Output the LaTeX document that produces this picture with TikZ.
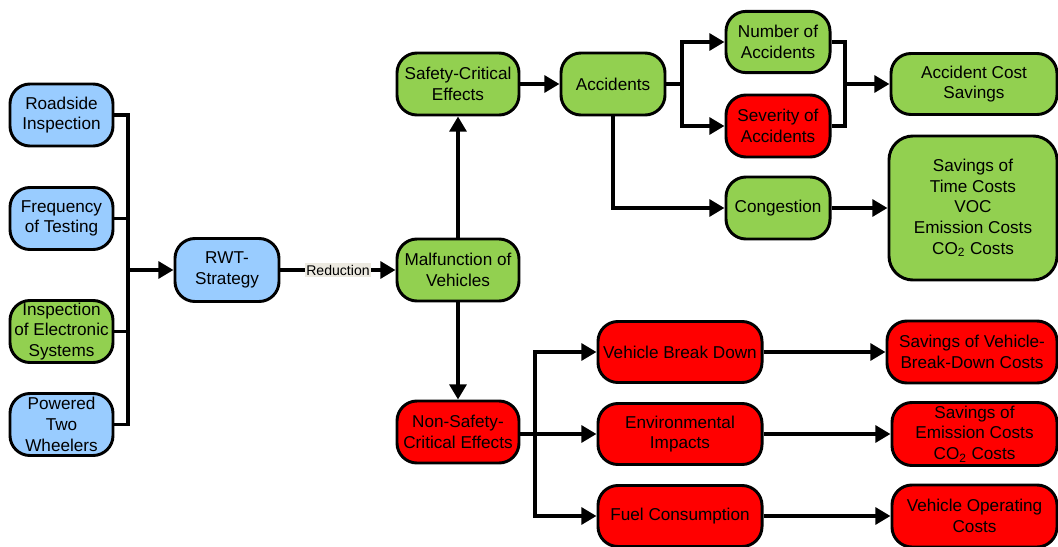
\documentclass[tikz,border=0pt]{standalone}
\usepackage{fontspec}
\setmainfont{Liberation Sans}
\usetikzlibrary{arrows.meta}
\definecolor{boxblue}{HTML}{99CCFF}
\definecolor{boxgreen}{HTML}{92D050}
\definecolor{boxred}{HTML}{FF0000}
\definecolor{labelgrey}{HTML}{ECE9E0}
\tikzset{
	box/.style={draw, line width=2.1pt, rounded corners=0.5cm, align=center,
		inner sep=1pt, font=\fontsize{12.2}{14.7}\selectfont},
	bluebox/.style={box, fill=boxblue},
	greenbox/.style={box, fill=boxgreen},
	redbox/.style={box, fill=boxred},
	redlabel/.style={fill=labelgrey, inner sep=1pt, font=\fontsize{10}{12}\selectfont},
}

\begin{document}
\begin{tikzpicture}[>={Triangle[length=0.38cm, width=0.42cm]}, line width=2.8pt,
			x=0.025cm, y=-0.025cm]
		\useasboundingbox (0, 0) rectangle (1058, 546);
		\clip (0, 0) rectangle (1058, 546);

		% measures
		\node[bluebox, minimum width=2.575cm, minimum height=1.55cm] (road) at (61.5, 115) {Roadside\\Inspection};
		\node[bluebox, minimum width=2.575cm, minimum height=1.55cm] (freq) at (61.5, 218.5) {Frequency\\of Testing};
		\node[greenbox, minimum width=2.575cm, minimum height=1.55cm] (elec) at (61.5, 331.5) {Inspection\\of Electronic\\Systems};
		\node[bluebox, minimum width=2.575cm, minimum height=1.55cm] (ptw) at (61.5, 424.5) {Powered\\Two\\Wheelers};
		\node[bluebox, minimum width=2.6cm, minimum height=1.575cm] (rwt) at (227, 270) {RWT-\\Strategy};

		% effects
		\node[greenbox, minimum width=3.05cm, minimum height=1.55cm] (malf) at (458, 270) {Malfunction of\\Vehicles};
		\node[greenbox, minimum width=3.05cm, minimum height=1.55cm] (safe) at (458, 84) {Safety-Critical\\Effects};
		\node[redbox, minimum width=3.05cm, minimum height=1.55cm] (nonsafe) at (458, 432) {Non-Safety-\\Critical Effects};

		% safety branch
		\node[greenbox, minimum width=2.6cm, minimum height=1.55cm] (acc) at (613, 84) {Accidents};
		\node[greenbox, minimum width=2.6cm, minimum height=1.53cm] (num) at (778, 42) {Number of\\Accidents};
		\node[redbox, minimum width=2.6cm, minimum height=1.55cm] (sev) at (778, 126) {Severity of\\Accidents};
		\node[greenbox, minimum width=2.6cm, minimum height=1.55cm] (cong) at (778, 208) {Congestion};
		\node[greenbox, minimum width=4.15cm, minimum height=1.525cm] (accsav) at (974, 84) {Accident Cost\\Savings};
		\node[greenbox, minimum width=4.2cm, minimum height=3.6cm, rounded corners=0.6cm] (timesav) at (973, 208)
			{Savings of\\Time Costs\\VOC\\Emission Costs\\CO\textsubscript{2} Costs};

		% non-safety branch
		\node[redbox, minimum width=4.1cm, minimum height=1.525cm] (vbd) at (680, 352) {Vehicle Break Down};
		\node[redbox, minimum width=4.1cm, minimum height=1.525cm] (env) at (680, 434) {Environmental\\Impacts};
		\node[redbox, minimum width=4.1cm, minimum height=1.525cm] (fuel) at (680, 516) {Fuel Consumption};
		\node[redbox, minimum width=4.25cm, minimum height=1.55cm] (vbdsav) at (972, 352) {Savings of Vehicle-\\Break-Down Costs};
		\node[redbox, minimum width=4.125cm, minimum height=1.575cm] (emsav) at (974.5, 434) {Savings of\\Emission Costs\\CO\textsubscript{2} Costs};
		\node[redbox, minimum width=4.125cm, minimum height=1.55cm] (voc) at (974.5, 516) {Vehicle Operating\\Costs};

		\coordinate (lbus) at (128, 270);
		\coordinate (asplit) at (682, 84);
		\coordinate (amerge) at (845, 84);
		\coordinate (nsplit) at (535, 434);

		\draw (road) -| (lbus);
		\draw (freq) -| (lbus);
		\draw (elec) -| (lbus);
		\draw (ptw) -| (lbus);
		\draw[->] (lbus) -- (rwt);
		\draw[->] (rwt) -- node[redlabel] {Reduction} (malf);

		\draw[->] (malf) -- (safe);
		\draw[->] (malf) -- (nonsafe);

		\draw[->] (safe) -- (acc);
		\draw (acc) -- (asplit);
		\draw[->] (asplit) |- (num);
		\draw[->] (asplit) |- (sev);
		\draw[->] (acc) |- (cong);
		\draw (num) -| (amerge);
		\draw (sev) -| (amerge);
		\draw[->] (amerge) -- (accsav);
		\draw[->] (cong) -- (timesav);

		\draw (nonsafe.east |- nsplit) -- (nsplit);
		\draw[->] (nsplit) |- (vbd);
		\draw[->] (nsplit) |- (env);
		\draw[->] (nsplit) |- (fuel);
		\draw[->] (vbd) -- (vbdsav);
		\draw[->] (env) -- (emsav);
		\draw[->] (fuel) -- (voc);
	\end{tikzpicture}
\end{document}
